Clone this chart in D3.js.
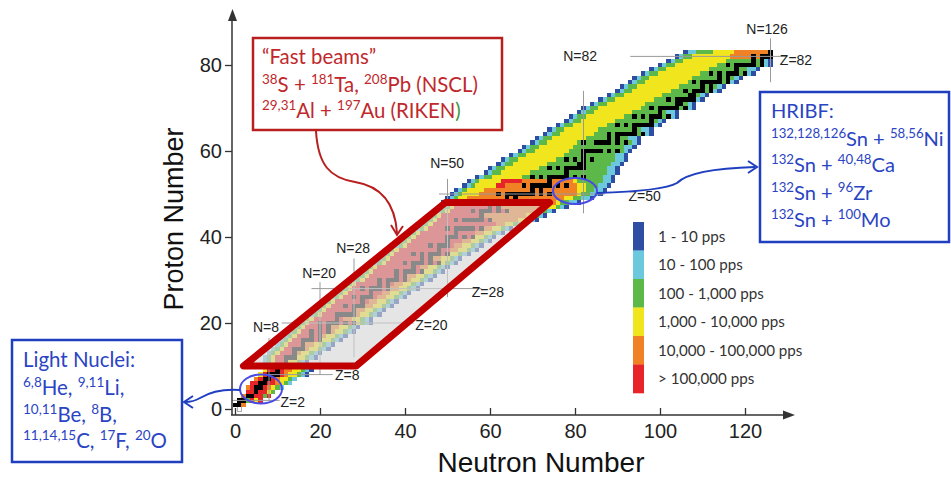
<!DOCTYPE html>
<html><head><meta charset="utf-8">
<script src="https://cdn.jsdelivr.net/npm/d3@7"></script>
<style>body{margin:0;background:#fff}</style>
</head><body>
<svg id="c" width="951" height="477" xmlns="http://www.w3.org/2000/svg"></svg>
<script>
// ---------- DATA ----------
// intensity classes
const classCodes  = ["b","c","g","y","o","r"];
const classLabels = ["1 - 10 pps","10 - 100 pps","100 - 1,000 pps","1,000 - 10,000 pps","10,000 - 100,000 pps","> 100,000 pps"];
// rows of the nuclide chart: [Z, first N, run-length list of classes] (k = stable, w = neutron)
const chartRows = [
 [0,1,"w"],[1,0,"k2 o"],[2,1,"k2 g r y r"],[3,2,"o k2 r2 g r"],[4,3,"r2 k r2 y g"],
 [5,3,"o r k2 r o y g c"],[6,4,"r2 k2 r2 o y g c"],[7,5,"o r k2 r o y2 g c"],
 [8,6,"y r k3 r o y2 g c b"],[9,7,"y r2 k r o2 y2 g c b"],
 [10,6,"c g y r k3 y g c b"],[11,7,"c g y r2 k y2 g c b"],[12,7,"c g y r2 k3 y2 g c b"],
 [13,8,"c g y r3 k o y2 g c b"],[14,9,"c g y r2 k3 o y2 g c b"],[15,10,"c g y r3 k o2 y2 g c b"],
 [16,11,"c g y r2 k3 r k y2 g c b"],[17,12,"c g y r3 k r k o y2 g c b"],[18,13,"c g y r2 k r k r k o y2 g c b"],
 [19,14,"c g y r3 k r k o2 y2 g c b"],[20,15,"c g y r2 k r k3 r k r k y g c b"],[21,16,"c g y r5 k r o2 y2 g c b"],
 [22,18,"c g y r3 k5 o y2 g c b"],[23,19,"c g y r6 k o2 y2 g c b"],[24,20,"c g y r3 k r k3 o2 y2 g c b"],
 [25,21,"c g y r6 k r o2 y2 g c b"],[26,23,"c g y r2 k r k3 r o2 y2 g c b"],[27,24,"c g y r5 k r2 o2 y2 g c b"],
 [28,25,"c g y r2 k r k3 r k o2 y2 g c b"],[29,26,"c g y r5 k r k r o2 y2 g c b"],[30,28,"c g y r3 k r k3 r k o y2 g c b"],
 [31,29,"c g y r6 k r k o2 y2 g c b"],[32,30,"c g y r5 k r k3 r k y2 g c b"],[33,31,"c g y r8 k r o2 y2 g c b"],
 [34,33,"c g y r4 k r k3 r k r k y g c b"],[35,34,"c g y r7 k r k o2 y2 g c b"],[36,35,"c g y r4 k r k r k3 r k y2 g c b"],
 [37,36,"c g y r9 k r2 o2 y2 g c b"],[38,38,"c g y r5 k r k3 r o2 y2 g c b"],[39,39,"c g y r8 k r3 o2 y2 g c b"],
 [40,40,"c g y r7 k3 r k r k y2 g c b"],[41,41,"c g y r8 k r4 o2 y2 g c b"],[42,43,"c g y r4 k r k5 r k o2 y2 g c b"],
 [43,44,"c g y r15 o2 y2 g c b"],[44,45,"c g y r4 k r k5 r k o6 y2 g c b"],[45,46,"c g y r9 k o10 y2 g c b"],
 [46,48,"c g y r5 k r k3 r k r k o6 y2 g c b"],[47,49,"c g y r8 k r k o11 y2 g c b"],
 [48,49,"b c g y2 o4 k o k o k5 o k o7 y g2 c2 b"],[49,50,"b c g y2 o9 k o k o11 y2 g2 c2 b"],
 [50,51,"b c g y4 o4 k o k7 o k o k o6 y g2 c2 b"],[51,52,"b c g y4 o11 k o k o8 y2 g2 c2 b"],
 [52,54,"b c g y5 r2 o4 k o k5 o k o k o2 y2 g3 c2 b"],[53,55,"b c g y5 r5 o6 k o5 y g6 c2 b"],
 [54,57,"b c g2 y7 g2 k g k g k5 g k g k g4 c2 b"],[55,59,"b c g2 y7 g8 k g9 c2 b"],
 [56,60,"b c g2 y8 g2 k g k g k5 g5 c2 b"],[57,62,"b c g2 y8 g7 k2 g6 c2 b"],
 [58,63,"b c g2 y9 g2 k g k g k g k g5 c2 b"],[59,65,"b c g2 y9 g4 k g7 c2 b"],
 [60,67,"b c g2 y8 g3 k5 g k g k g c b"],[61,68,"b c g2 y8 g12 c2 b"],
 [62,70,"b c g2 y7 g k g2 k4 g k g k g c b"],[63,71,"b c g2 y8 g5 k g k g2 c2 b"],
 [64,73,"b c g2 y8 g3 k g k5 g k c b"],[65,74,"b c g2 y8 g8 k g c2 b"],
 [66,76,"b c g2 y8 g2 k g k g k5 c b"],[67,78,"b c g2 y8 g8 k g c b"],
 [68,79,"b c g2 y9 g2 k g k g k3 g k c b"],[69,81,"b c g2 y9 g6 k g c2 b"],
 [70,82,"b c g2 y10 g2 k g k5 g k c b"],[71,84,"b c g2 y9 g7 k2 g c b"],
 [72,86,"b c g2 y9 g3 k g k5 c b"],[73,88,"b c g2 y9 g6 k2 g c b"],
 [74,90,"b c g2 y9 g3 k g k3 g k c b"],[75,91,"b c g2 y10 g5 k g k g c b"],
 [76,93,"b c g2 y10 g k g k5 g k c b"],[77,94,"b c g2 y10 g6 k g k g c b"],
 [78,96,"b c g2 y10 g2 k g k g k3 g k c b"],[79,98,"b c g2 y10 g6 k g2 c2 b"],
 [80,100,"b c g2 y10 g2 k g k5 g k c b"],[81,102,"b c g2 y10 g6 k g k c b"],
 [82,104,"b c g2 y9 o5 k o k3"],[83,106,"b c2 g4 y5 o8 k"]
];
const xTicks = [0,20,40,60,80,100,120];
const yTicks = [0,20,40,60,80];
const magicN = [8,20,28,50,82,126];
const magicZ = [2,8,20,28,50,82];
// fast-beam region of the chart, corners in (N,Z)
const fastBeamRegion = [[2,10],[28.5,10],[74,48],[49.5,48]];
const fastLines  = ["\u201CFast beams\u201D","^38S + ^181Ta, ^208Pb (NSCL)","^29,31Al + ^197Au (RIKEN~)"];
const hribfLines = ["HRIBF:","^132,128,126Sn + ^58,56Ni","^132Sn + ^40,48Ca","^132Sn + ^96Zr","^132Sn + ^100Mo"];
const lightLines = ["Light Nuclei:","^6,8He, ^9,11Li,","^10,11Be, ^8B,","^11,14,15C, ^17F, ^20O"];

// ---------- LAYOUT / STYLE ----------
const colors = {b:"#2d4ea3",c:"#6cc8dc",g:"#5cb848",y:"#f1e51d",o:"#f08124",r:"#e8242b",k:"#000000",w:"#ffffff"};
const magicNExt = {8:[1.8,16.5],20:[8,29.5],28:[12,35],50:[26,53.5],82:[45.5,74],126:[76,86.2]};
const magicZExt = {2:[-0.7,10.5],8:[7,23],20:[11,42],28:[18,58],50:[48,87],82:[93,130]};
const magicNLab = {8:[7.3,18.0],20:[19.8,30.5],28:[27.8,36.3],50:[49.9,56.0],82:[81.2,80.9],126:[125.2,87.2]};
const magicZLab = {2:[13.6,0.5],8:[26.4,6.7],20:[46.2,18.4],28:[59.5,26.0],50:[96.4,48.4],82:[132,80.0]};
const annFont = "Lato, 'Open Sans', sans-serif";
const axFont = "'Liberation Sans', Arial, sans-serif";

const svg = d3.select("#c");
const x = d3.scaleLinear().domain([0,120]).range([235,745]);
const y = d3.scaleLinear().domain([0,80]).range([409,65]);
const cw = x(1)-x(0), ch = y(0)-y(1);

// decode rows
const cells = [];
chartRows.forEach(([Z,N0,rle])=>{
  let n = N0;
  rle.split(" ").forEach(tok=>{
    const code = tok[0], cnt = tok.length>1 ? +tok.slice(1) : 1;
    for(let i=0;i<cnt;i++){ cells.push({N:n,Z:Z,code:code}); n++; }
  });
});

const gCells = svg.append("g").attr("shape-rendering","crispEdges");
gCells.selectAll("rect").data(cells).join("rect")
  .attr("x",d=>x(d.N)-cw/2).attr("y",d=>y(d.Z)-ch/2)
  .attr("width",cw).attr("height",ch)
  .attr("fill",d=>colors[d.code])
  .attr("stroke",d=>d.code==="w"?"#999":"none").attr("stroke-width",0.8);

// magic number lines
const gMagic = svg.append("g").attr("stroke","#9a9a9a").attr("stroke-width",1);
magicN.forEach(n=>{ const e=magicNExt[n];
  gMagic.append("line").attr("x1",x(n)).attr("x2",x(n)).attr("y1",y(e[0])).attr("y2",y(e[1])); });
magicZ.forEach(z=>{ const e=magicZExt[z];
  gMagic.append("line").attr("y1",y(z)).attr("y2",y(z)).attr("x1",x(e[0])).attr("x2",x(e[1])); });

// fast-beam overlay
const poly = fastBeamRegion.map(p=>[x(p[0]),y(p[1])].join(",")).join(" ");
svg.append("polygon").attr("points",poly).attr("fill","#d6d6d6").attr("fill-opacity",0.64);
svg.append("polygon").attr("points",poly).attr("fill","none").attr("stroke","#c00000")
   .attr("stroke-width",7).attr("stroke-linejoin","round");

// magic labels
const gML = svg.append("g").attr("font-family",axFont).attr("font-size",14).attr("fill","#222").attr("text-anchor","middle");
magicN.forEach(n=>{ const p=magicNLab[n]; gML.append("text").attr("x",x(p[0])).attr("y",y(p[1])).text("N="+n); });
magicZ.forEach(z=>{ const p=magicZLab[z]; gML.append("text").attr("x",x(p[0])).attr("y",y(p[1])).text("Z="+z); });

// axes
const axColor="#333";
const gY = svg.append("g").attr("transform","translate(232,0)")
  .call(d3.axisLeft(y).tickValues(yTicks).tickSize(7).tickPadding(3));
gY.select(".domain").remove();
const gX = svg.append("g").attr("transform","translate(0,415)")
  .call(d3.axisBottom(x).tickValues(xTicks).tickSizeInner(-7).tickSizeOuter(0).tickPadding(9));
gX.select(".domain").remove();
[gX,gY].forEach(g=>{
  g.selectAll("text").attr("font-size",20).attr("font-family",axFont).attr("fill","#222");
  g.selectAll("line").attr("stroke",axColor).attr("stroke-width",1.3);
});
svg.append("line").attr("x1",232).attr("x2",232).attr("y1",415).attr("y2",19).attr("stroke",axColor).attr("stroke-width",1.5);
svg.append("path").attr("d","M228,21 L232.5,9 L237,21 Z").attr("fill",axColor);
svg.append("line").attr("x1",231).attr("x2",784).attr("y1",415).attr("y2",415).attr("stroke",axColor).attr("stroke-width",1.5);
svg.append("path").attr("d","M783,410.5 L795,415 L783,419.5 Z").attr("fill",axColor);

svg.append("text").attr("transform","translate(183,219) rotate(-90)").attr("text-anchor","middle")
  .attr("font-family",axFont).attr("font-size",27).attr("fill","#111").text("Proton Number");
svg.append("text").attr("x",541).attr("y",472).attr("text-anchor","middle")
  .attr("font-family",axFont).attr("font-size",28).attr("fill","#111").text("Neutron Number");

// legend
const lg = svg.append("g");
const legY0 = 222, legH = 28.5;
lg.selectAll("rect").data(classCodes).join("rect")
  .attr("x",633).attr("width",11).attr("y",(d,i)=>legY0+i*legH).attr("height",legH+0.3)
  .attr("fill",d=>colors[d]);
const legText = lg.selectAll("text").data(classLabels).join("text")
  .attr("x",658).attr("y",(d,i)=>legY0+i*legH+legH/2+5.5)
  .attr("font-family",annFont).attr("font-size",16).attr("fill","#333").text(d=>d);
{ const w = legText.nodes()[3].getComputedTextLength(); legText.attr("font-size",16*127/w); }

// annotation text helper
function addLine(t, str, fs, greenColor){
  let shift=0; const re=/\^([0-9,]+)|~(.)|([^\^~]+)/g; let m;
  while((m=re.exec(str))){
    if(m[1]!==undefined){
      const target=-fs*0.4;
      t.append("tspan").attr("font-size",fs*0.66).attr("dy",target-shift).text(m[1]); shift=target;
    } else {
      const txt = m[2]!==undefined? m[2] : m[3];
      const s = t.append("tspan").attr("font-size",fs).text(txt);
      if(shift!==0){ s.attr("dy",-shift); shift=0; }
      if(m[2]!==undefined) s.attr("fill",greenColor);
    }
  }
}
function block(lines, x0, baselines, color, fitIdx, fitW){
  const g = svg.append("g").attr("font-family",annFont).attr("fill",color);
  const draw = fs => { g.selectAll("*").remove();
    return lines.map((L,i)=>{ const t=g.append("text").attr("x",x0).attr("y",baselines[i]); addLine(t,L,fs,"#3d9440"); return t; }); };
  let ts = draw(18);
  const w = ts[fitIdx].node().getComputedTextLength();
  draw(18*fitW/w);
}

// Fast beams box + arrow
const red="#b81f1f";
svg.append("rect").attr("x",253).attr("y",38).attr("width",249).attr("height",92)
  .attr("fill","#fff").attr("stroke",red).attr("stroke-width",2.5);
block(fastLines, 262, [64,92,118], "#c0282b", 1, 216);
svg.append("path").attr("d","M316,131 C318,165 330,178 355,182 C380,186 395,202 397,233")
  .attr("fill","none").attr("stroke",red).attr("stroke-width",2);
svg.append("path").attr("d","M391,225 L397,235 L403,226").attr("fill","none").attr("stroke",red).attr("stroke-width",2);

// HRIBF box
const blue="#1f3fc0";
svg.append("rect").attr("x",760).attr("y",92).attr("width",189).attr("height",150)
  .attr("fill","#fff").attr("stroke",blue).attr("stroke-width",2.5);
block(hribfLines, 771, [118,146,172,200,227], "#2a44c4", 2, 124);
svg.append("ellipse").attr("cx",575).attr("cy",191).attr("rx",22).attr("ry",13)
  .attr("fill","none").attr("stroke","#4a4ae6").attr("stroke-width",2);
svg.append("path").attr("d","M597,193 C630,192 665,190 677,183 C688,172 720,168 755,167")
  .attr("fill","none").attr("stroke",blue).attr("stroke-width",2);
svg.append("path").attr("d","M748,161 L757,167 L748,173").attr("fill","none").attr("stroke",blue).attr("stroke-width",2);

// Light nuclei box
svg.append("rect").attr("x",12).attr("y",340).attr("width",170).attr("height",122)
  .attr("fill","#fff").attr("stroke",blue).attr("stroke-width",2.5);
block(lightLines, 23, [367,395,422,448], "#2a44c4", 3, 144);
svg.append("ellipse").attr("cx",261).attr("cy",389).attr("rx",21).attr("ry",14.5)
  .attr("fill","none").attr("stroke","#4a4ae6").attr("stroke-width",2);
svg.append("path").attr("d","M240,390 C225,389 210,392 200,398 C195,401 190,402 185,402")
  .attr("fill","none").attr("stroke",blue).attr("stroke-width",2);
svg.append("path").attr("d","M193,396 L184,402 L193,408").attr("fill","none").attr("stroke",blue).attr("stroke-width",2);
</script>
</body></html>
